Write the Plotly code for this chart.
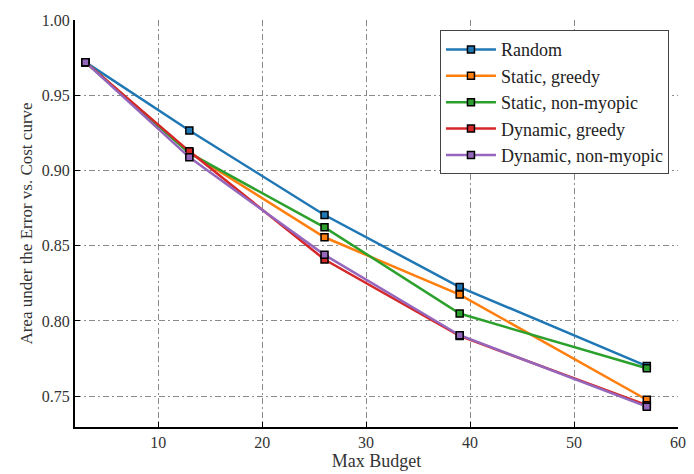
import plotly.graph_objects as go

budgets = [3, 13, 26, 39, 57]
series_names = ["Random", "Static, greedy", "Static, non-myopic", "Dynamic, greedy", "Dynamic, non-myopic"]
random_vals = [0.972, 0.9266, 0.8704, 0.8225, 0.7700]
static_greedy = [0.972, 0.9120, 0.8556, 0.8175, 0.7476]
static_nonmyopic = [0.972, 0.9115, 0.8622, 0.8049, 0.7685]
dynamic_greedy = [0.972, 0.9127, 0.8408, 0.7900, 0.7440]
dynamic_nonmyopic = [0.972, 0.9087, 0.8439, 0.7905, 0.7430]
colors = ["#1f77b4", "#ff7f0e", "#2ca02c", "#d62728", "#9467bd"]

all_vals = [random_vals, static_greedy, static_nonmyopic, dynamic_greedy, dynamic_nonmyopic]

font_family = "Liberation Serif, DejaVu Serif, serif"

fig = go.Figure()
for name, vals, c in zip(series_names, all_vals, colors):
    fig.add_trace(go.Scatter(
        x=budgets, y=vals, name=name, mode="lines+markers",
        line=dict(color=c, width=2.5),
        marker=dict(symbol="square", size=7, color=c, line=dict(color="black", width=1.5)),
    ))

grid = dict(showgrid=True, gridcolor="#8a8a8a", griddash="6px,3px,2px,3px", gridwidth=1)
fig.update_layout(
    width=694, height=474,
    margin=dict(l=75, r=8, t=20, b=45),
    paper_bgcolor="white", plot_bgcolor="white",
    font=dict(family=font_family, size=16, color="#333"),
    showlegend=True,
    legend=dict(x=0.985, y=0.975, xanchor="right", yanchor="top",
                bordercolor="#444", borderwidth=1, bgcolor="white",
                font=dict(size=18, color="#222"), tracegroupgap=2, itemwidth=50),
    xaxis=dict(range=[2, 60], tickvals=[10, 20, 30, 40, 50, 60],
               title=dict(text="Max Budget", standoff=2, font=dict(size=18)),
               showline=True, linecolor="black", linewidth=2, mirror=False,
               ticks="inside", ticklen=5, tickcolor="black", zeroline=False, **grid),
    yaxis=dict(range=[0.7295, 1.0], tickvals=[0.75, 0.80, 0.85, 0.90, 0.95, 1.00],
               tickformat=".2f",
               title=dict(text="Area under the Error vs. Cost curve", standoff=5, font=dict(size=17)),
               showline=True, linecolor="black", linewidth=2, mirror=False,
               ticks="inside", ticklen=5, tickcolor="black", zeroline=False, **grid),
)
fig.write_html("out.html")
